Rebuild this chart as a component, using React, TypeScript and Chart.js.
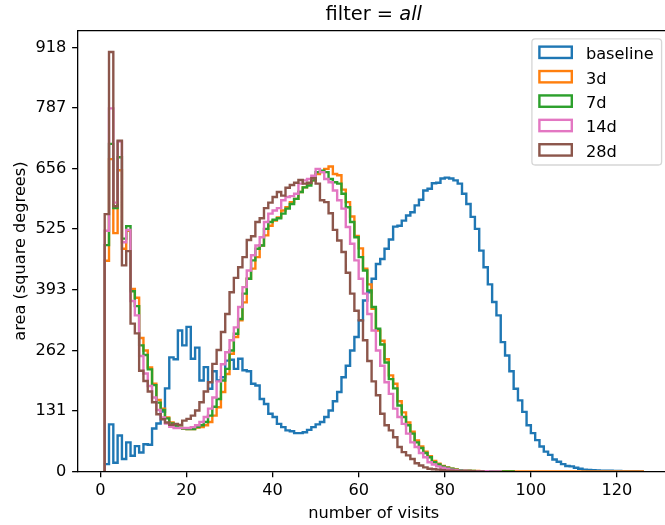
import React, { useEffect, useRef } from 'react';
import { Chart, registerables } from 'chart.js';

Chart.register(...registerables);

// Left edges of the 1-visit-wide histogram bins (last entry closes the last bin)
const visitEdges = [
  1, 2, 3, 4, 5, 6, 7, 8, 9, 10, 11, 12, 13, 14, 15, 16, 17, 18, 19, 20,
  21, 22, 23, 24, 25, 26, 27, 28, 29, 30, 31, 32, 33, 34, 35, 36, 37, 38, 39, 40,
  41, 42, 43, 44, 45, 46, 47, 48, 49, 50, 51, 52, 53, 54, 55, 56, 57, 58, 59, 60,
  61, 62, 63, 64, 65, 66, 67, 68, 69, 70, 71, 72, 73, 74, 75, 76, 77, 78, 79, 80,
  81, 82, 83, 84, 85, 86, 87, 88, 89, 90, 91, 92, 93, 94, 95, 96, 97, 98, 99, 100,
  101, 102, 103, 104, 105, 106, 107, 108, 109, 110, 111, 112, 113, 114, 115, 116, 117, 118, 119, 120,
  121, 122, 123, 124, 125, 126,
];

const baselineArea = [
  16, 102, 19, 78, 27, 63, 34, 55, 41, 59,
  58, 93, 104, 130, 180, 247, 243, 305, 273, 313,
  244, 268, 197, 226, 179, 217, 197, 204, 240, 242,
  222, 244, 219, 217, 190, 186, 157, 146, 125, 118,
  103, 96, 89, 87, 83, 83, 85, 90, 96, 102,
  107, 118, 132, 152, 172, 204, 229, 262, 291, 327,
  370, 388, 417, 449, 460, 482, 502, 530, 532, 543,
  554, 561, 576, 588, 608, 612, 624, 625, 634, 636,
  634, 630, 623, 601, 579, 551, 525, 478, 442, 405,
  367, 338, 280, 251, 217, 179, 154, 129, 100, 83,
  68, 54, 43, 36, 26, 21, 16, 12, 11, 8,
  6, 4, 3.5, 3, 2.5, 2, 1.5, 1.5, 1, 1,
  0.8, 0.6, 0.5, 0.4, 0.3,
];

const area3d = [
  456, 676, 516, 652, 482, 521, 395, 376, 289, 262,
  225, 190, 155, 136, 117, 106, 99, 95, 93, 92,
  92, 95, 96, 100, 107, 121, 139, 172, 211, 255,
  291, 327, 366, 417, 439, 464, 489, 511, 532, 543,
  550, 565, 572, 583, 590, 605, 615, 623, 630, 644,
  648, 655, 660, 644, 641, 610, 583, 552, 510, 483,
  439, 405, 352, 305, 283, 243, 208, 190, 152, 128,
  106, 86, 67, 54, 43, 33, 23, 17, 12, 9,
  6, 4.5, 3, 2, 1.5, 1.2, 1, 0.8, 0.7, 0.6,
  0.5, 0.5, 0.4, 0.4, 0.4, 0.3, 0.3, 0.3, 0.3, 0.3,
  0.2, 0.2, 0.2, 0.2, 0.2, 0.2, 0.2, 0.2, 0.2, 0.2,
  0.2, 0.2, 0.2, 0.2, 0.2, 0.2, 0.2, 0.2, 0.2, 0.2,
  0.2, 0.2, 0.2, 0.2, 0.2,
];

const area7d = [
  490, 709, 570, 680, 504, 531, 390, 358, 273, 252,
  221, 187, 149, 133, 115, 104, 98, 95, 93, 92,
  92, 96, 100, 107, 121, 140, 157, 197, 222, 262,
  298, 330, 385, 417, 457, 482, 489, 525, 540, 545,
  548, 558, 569, 579, 590, 605, 615, 619, 630, 648,
  651, 648, 633, 626, 623, 601, 572, 540, 507, 464,
  435, 392, 356, 309, 275, 236, 200, 180, 143, 118,
  100, 82, 63, 51, 40, 31, 20, 15, 11, 8,
  6, 4, 3, 2, 1.5, 1, 0.8, 0.6, 0.5, 0.4,
  0.3, 0.3, 0.2, 0.2, 0.2,
];

const area14d = [
  521, 786, 582, 714, 496, 523, 369, 338, 250, 212,
  185, 160, 133, 117, 104, 97, 94, 94, 94, 94,
  96, 100, 107, 118, 136, 160, 195, 232, 258, 284,
  312, 356, 399, 435, 468, 489, 507, 540, 558, 565,
  570, 587, 594, 596, 601, 623, 630, 633, 640, 655,
  648, 633, 626, 608, 587, 569, 529, 493, 457, 417,
  385, 341, 305, 262, 229, 193, 168, 136, 118, 103,
  82, 63, 53, 40, 31, 20, 15, 11, 8, 6,
  4, 3, 2, 1.5, 1, 0.8, 0.6, 0.5, 0.4, 0.3,
  0.2, 0.2,
];

const area28d = [
  557, 908, 574, 716, 446, 477, 320, 299, 218, 196,
  173, 150, 124, 113, 106, 101, 103, 101, 110, 114,
  121, 132, 150, 173, 193, 233, 263, 302, 341, 388,
  419, 442, 464, 501, 509, 540, 548, 570, 582, 594,
  605, 597, 614, 620, 625, 631, 623, 625, 635, 623,
  587, 583, 559, 523, 500, 475, 430, 385, 348, 327,
  284, 239, 195, 165, 125, 100, 89, 74, 53, 42,
  35, 27, 18, 13, 9, 6, 5, 4, 3, 2,
  1.5, 1, 0.8, 0.6, 0.5, 0.4, 0.3, 0.2,
];

const seriesNames = ['baseline', '3d', '7d', '14d', '28d'];
const seriesColors = ['#1f77b4', '#ff7f0e', '#2ca02c', '#e377c2', '#8c564b'];
const seriesValues = [baselineArea, area3d, area7d, area14d, area28d];

const xTickValues = [0, 20, 40, 60, 80, 100, 120];
const xTickLabels = ['0', '20', '40', '60', '80', '100', '120'];
const yTickValues = [0, 131.14, 262.29, 393.43, 524.57, 655.71, 786.86, 918];
const yTickLabels = ['0', '131', '262', '393', '525', '656', '787', '918'];

const titlePrefix = 'filter = ';
const titleItalic = 'all';
const xAxisTitle = 'number of visits';
const yAxisTitle = 'area (square degrees)';

const FONT = "'DejaVu Sans', 'Liberation Sans', sans-serif";
const FS = 16.2;

function stepPoints(values: number[]) {
  const pts = [{ x: visitEdges[0], y: 0 }];
  values.forEach((v, i) => pts.push({ x: visitEdges[i], y: v }));
  pts.push({ x: visitEdges[values.length], y: 0 });
  return pts;
}

const decorPlugin = {
  id: 'mplDecor',
  afterDraw(chart: any) {
    const { ctx, chartArea: ca } = chart;
    ctx.save();
    // top / right spines
    ctx.strokeStyle = '#000';
    ctx.lineWidth = 1.3;
    ctx.beginPath();
    ctx.moveTo(ca.left - 0.65, ca.top);
    ctx.lineTo(ca.right, ca.top);
    ctx.lineTo(ca.right, ca.bottom);
    ctx.stroke();

    // title with italic part
    const tfs = 19.4;
    const regFont = `${tfs}px ${FONT}`;
    const itFont = `italic ${tfs}px ${FONT}`;
    ctx.font = regFont;
    const w1 = ctx.measureText(titlePrefix).width;
    ctx.font = itFont;
    const w2 = ctx.measureText(titleItalic).width;
    const cx = (ca.left + ca.right) / 2;
    const x0 = cx - (w1 + w2) / 2;
    const ty = 19.5;
    ctx.fillStyle = '#000';
    ctx.textBaseline = 'alphabetic';
    ctx.textAlign = 'left';
    ctx.font = regFont;
    ctx.fillText(titlePrefix, x0, ty);
    ctx.font = itFont;
    ctx.fillText(titleItalic, x0 + w1, ty);

    // legend
    const boxRight = ca.right - 0.5 * FS;
    const boxTop = ca.top + 0.5 * FS;
    const boxW = 129.7;
    const boxH = 126.2;
    const boxLeft = boxRight - boxW;
    const r = 3.2;
    ctx.beginPath();
    ctx.moveTo(boxLeft + r, boxTop);
    ctx.lineTo(boxRight - r, boxTop);
    ctx.arcTo(boxRight, boxTop, boxRight, boxTop + r, r);
    ctx.lineTo(boxRight, boxTop + boxH - r);
    ctx.arcTo(boxRight, boxTop + boxH, boxRight - r, boxTop + boxH, r);
    ctx.lineTo(boxLeft + r, boxTop + boxH);
    ctx.arcTo(boxLeft, boxTop + boxH, boxLeft, boxTop + boxH - r, r);
    ctx.lineTo(boxLeft, boxTop + r);
    ctx.arcTo(boxLeft, boxTop, boxLeft + r, boxTop, r);
    ctx.closePath();
    ctx.fillStyle = 'rgba(255,255,255,0.8)';
    ctx.fill();
    ctx.strokeStyle = 'rgba(204,204,204,0.8)';
    ctx.lineWidth = 1.3;
    ctx.stroke();

    ctx.font = `${FS}px ${FONT}`;
    seriesNames.forEach((name, i) => {
      const cy = boxTop + 13.5 + i * 24.4;
      ctx.strokeStyle = seriesColors[i];
      ctx.lineWidth = 2.4;
      ctx.strokeRect(boxLeft + 7.5, cy - 5.67, 32.4, 11.34);
      ctx.fillStyle = '#000';
      ctx.fillText(name, boxLeft + 54, cy + 6.8);
    });
    ctx.restore();
  },
};

export default function App() {
  const canvasRef = useRef<HTMLCanvasElement | null>(null);

  useEffect(() => {
    if (!canvasRef.current) return;
    const datasets = seriesValues.map((vals, i) => ({
      label: seriesNames[i],
      data: stepPoints(vals),
      borderColor: seriesColors[i],
      backgroundColor: seriesColors[i],
      borderWidth: 2.4,
      pointRadius: 0,
      pointHoverRadius: 0,
      fill: false,
      tension: 0,
      stepped: 'before' as const,
      borderJoinStyle: 'miter' as const,
      borderCapStyle: 'butt' as const,
      clip: 0,
      order: seriesNames.length - 1 - i,
    }));

    const chart = new Chart(canvasRef.current, {
      type: 'line',
      data: { datasets },
      options: {
        animation: false,
        responsive: false,
        devicePixelRatio: 1,
        events: [],
        layout: { padding: { top: 30.7, right: 10.3, left: 0, bottom: 0 } },
        plugins: {
          legend: { display: false },
          title: { display: false },
          tooltip: { enabled: false },
        },
        scales: {
          x: {
            type: 'linear',
            min: -5.25,
            max: 132.25,
            afterBuildTicks: (scale: any) => {
              scale.ticks = xTickValues.map((v) => ({ value: v }));
            },
            afterFit: (scale: any) => {
              scale.height = 53.5;
            },
            grid: {
              display: true,
              drawOnChartArea: false,
              drawTicks: true,
              tickLength: 5.7,
              color: '#000',
              lineWidth: 1.3,
            },
            border: { display: true, color: '#000', width: 1.3, z: 1 },
            ticks: {
              color: '#000',
              font: { family: FONT, size: FS, lineHeight: 1.2 },
              padding: 4.3,
              maxRotation: 0,
              minRotation: 0,
              autoSkip: false,
              callback: (_v: any, i: number) => xTickLabels[i],
            },
            title: {
              display: true,
              text: xAxisTitle,
              color: '#000',
              font: { family: FONT, size: FS, lineHeight: 1.2 },
              padding: { top: 0, bottom: 1.4 },
            },
          },
          y: {
            type: 'linear',
            min: 0,
            max: 954,
            afterBuildTicks: (scale: any) => {
              scale.ticks = yTickValues.map((v) => ({ value: v }));
            },
            afterFit: (scale: any) => {
              scale.width = 77.8;
            },
            grid: {
              display: true,
              drawOnChartArea: false,
              drawTicks: true,
              tickLength: 5.7,
              color: '#000',
              lineWidth: 1.3,
            },
            border: { display: true, color: '#000', width: 1.3, z: 1 },
            ticks: {
              color: '#000',
              font: { family: FONT, size: FS, lineHeight: 1.2 },
              padding: 5.7,
              autoSkip: false,
              callback: (_v: any, i: number) => yTickLabels[i],
            },
            title: {
              display: true,
              text: yAxisTitle,
              color: '#000',
              font: { family: FONT, size: FS, lineHeight: 1.2 },
              padding: { top: 10.7, bottom: 0 },
            },
          },
        },
      },
      plugins: [decorPlugin],
    } as any);

    return () => chart.destroy();
  }, []);

  return (
    <div
      style={{
        position: 'fixed',
        left: 0,
        top: 0,
        width: 665,
        height: 525,
        overflow: 'hidden',
        background: '#fff',
      }}
    >
      <canvas
        ref={canvasRef}
        width={680}
        height={525}
        style={{ display: 'block', width: 680, height: 525 }}
      />
    </div>
  );
}
